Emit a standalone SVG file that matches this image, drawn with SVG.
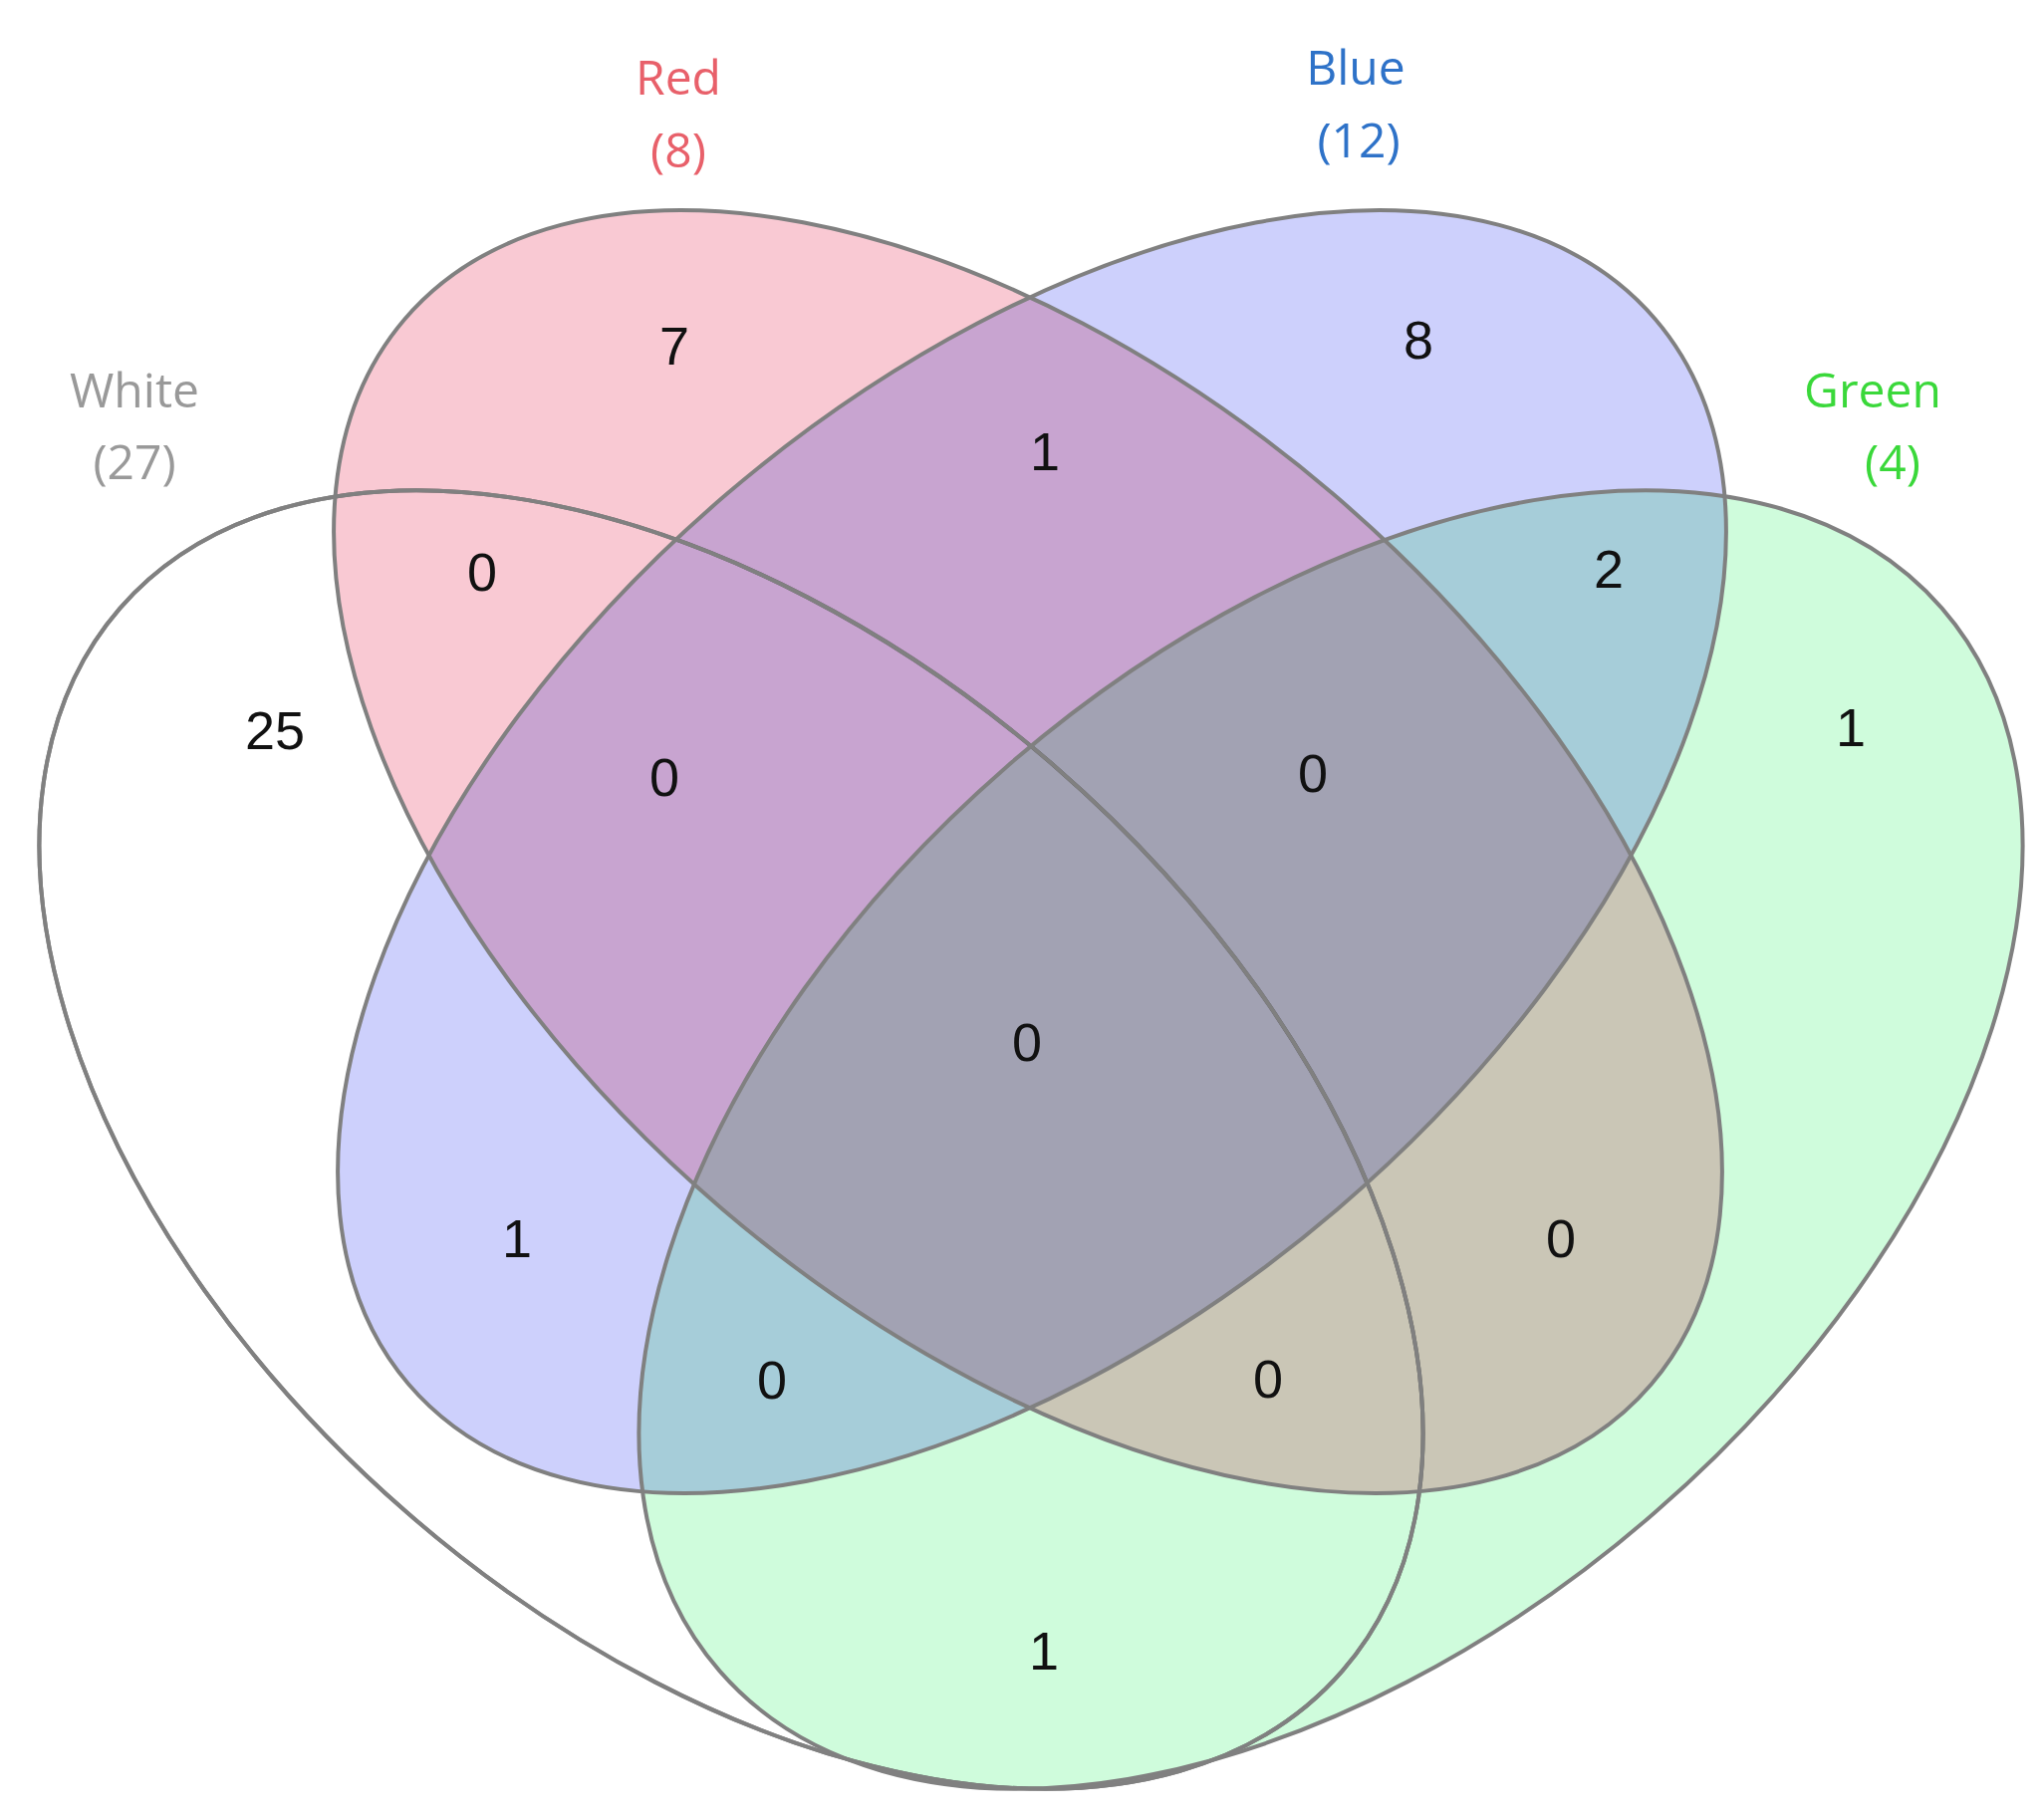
<svg xmlns="http://www.w3.org/2000/svg" width="2052" height="1826" viewBox="0 0 2052 1826">
<style>
.m{mix-blend-mode:multiply}
.o{fill:none;stroke:#808080;stroke-width:4}
.n{font-family:"Liberation Sans",Arial,sans-serif;font-size:54px;fill:#111;text-anchor:middle}
.l{font-family:"Open Sans","Liberation Sans",sans-serif;font-size:48px;text-anchor:middle}
</style>
<rect width="2052" height="1826" fill="#fff"/>
<g id="white"><ellipse class="o" cx="734" cy="1144" rx="813" ry="496" transform="rotate(41 734 1144)"/></g>
<g id="red"><ellipse class="m" cx="1032" cy="855" rx="823" ry="472" transform="rotate(40.5 1032 855)" fill="#f9c9d3"/></g>
<g id="blue"><ellipse class="m" cx="1036" cy="855" rx="823" ry="472" transform="rotate(-40.5 1036 855)" fill="#cdd0fc"/></g>
<g id="green"><ellipse class="m" cx="1336" cy="1144" rx="813" ry="496" transform="rotate(-41 1336 1144)" fill="#cffcdc"/></g>
<g id="outlines">
<ellipse class="o" cx="734" cy="1144" rx="813" ry="496" transform="rotate(41 734 1144)"/>
<ellipse class="o" cx="1032" cy="855" rx="823" ry="472" transform="rotate(40.5 1032 855)"/>
<ellipse class="o" cx="1036" cy="855" rx="823" ry="472" transform="rotate(-40.5 1036 855)"/>
<ellipse class="o" cx="1336" cy="1144" rx="813" ry="496" transform="rotate(-41 1336 1144)"/>
</g>
<g id="labels">
<text class="l" x="681" y="95" fill="#e8606a">Red</text>
<text class="l" x="681" y="168" fill="#e8606a">(8)</text>
<text class="l" x="1361" y="85" fill="#2e72c8">Blue</text>
<text class="l" x="1364" y="158" fill="#2e72c8">(12)</text>
<text class="l" x="135" y="409" fill="#999">White</text>
<text class="l" x="135" y="481" fill="#999">(27)</text>
<text class="l" x="1880" y="409" fill="#3ad83a">Green</text>
<text class="l" x="1900" y="481" fill="#3ad83a">(4)</text>
</g>
<g id="counts">
<text class="n" x="677" y="366">7</text>
<text class="n" x="1424" y="360">8</text>
<text class="n" x="1049" y="472">1</text>
<text class="n" x="484" y="593">0</text>
<text class="n" x="1615" y="590">2</text>
<text class="n" x="276" y="752">25</text>
<text class="n" x="1858" y="749">1</text>
<text class="n" x="667" y="799">0</text>
<text class="n" x="1318" y="795">0</text>
<text class="n" x="1031" y="1065">0</text>
<text class="n" x="519" y="1262">1</text>
<text class="n" x="1567" y="1262">0</text>
<text class="n" x="775" y="1404">0</text>
<text class="n" x="1273" y="1403">0</text>
<text class="n" x="1048" y="1676">1</text>
</g>
</svg>
